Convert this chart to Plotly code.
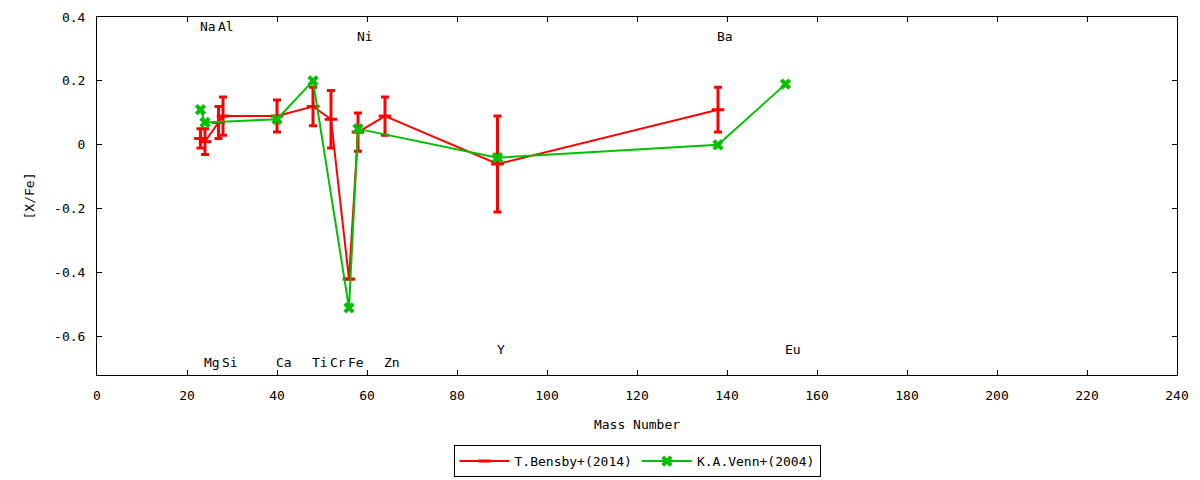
import plotly.graph_objects as go

# element labels placed along the top and bottom of the plot
elements = ["Na", "Mg", "Al", "Si", "Ca", "Ti", "Cr", "Fe", "Ni", "Zn", "Y", "Ba", "Eu"]
element_mass = [23, 24, 27, 28, 40, 48, 52, 56, 58, 64, 89, 138, 153]
label_y = [0.37, -0.68, 0.37, -0.68, -0.68, -0.68, -0.68, -0.68, 0.34, -0.68, -0.64, 0.34, -0.64]

# T.Bensby+(2014)
bensby_mass = [23, 24, 27, 28, 40, 48, 52, 56, 58, 64, 89, 138]
bensby_val = [0.02, 0.01, 0.07, 0.09, 0.09, 0.12, 0.08, -0.42, 0.04, 0.09, -0.06, 0.11]
bensby_err = [0.03, 0.04, 0.05, 0.06, 0.05, 0.06, 0.09, 0.0, 0.06, 0.06, 0.15, 0.07]

# K.A.Venn+(2004)
venn_mass = [23, 24, 40, 48, 56, 58, 89, 138, 153]
venn_val = [0.11, 0.07, 0.08, 0.20, -0.51, 0.05, -0.04, 0.0, 0.19]

yticks = [-0.6, -0.4, -0.2, 0, 0.2, 0.4]
ytick_text = ["-0.6", "-0.4", "-0.2", "0", "0.2", "0.4"]

FONT = "DejaVu Sans Mono"

fig = go.Figure()

fig.add_trace(go.Scatter(
    x=bensby_mass, y=bensby_val,
    mode="lines+markers",
    name="T.Bensby+(2014)",
    line=dict(color="#ff0000", width=2),
    marker=dict(symbol="line-ew", size=9, color="#ff0000",
                line=dict(color="#ff0000", width=3)),
    error_y=dict(type="data", array=bensby_err, visible=True,
                 color="#ff0000", thickness=3, width=4),
))

fig.add_trace(go.Scatter(
    x=venn_mass, y=venn_val,
    mode="lines+markers",
    name="K.A.Venn+(2004)",
    line=dict(color="#00c000", width=2),
    marker=dict(symbol="x", size=10, color="#00c000"),
))

for el, m, ly in zip(elements, element_mass, label_y):
    fig.add_annotation(x=m, y=ly, text=el, showarrow=False,
                       xanchor="left", xshift=-3,
                       font=dict(family=FONT, size=13, color="black"))

axis_common = dict(
    showline=True, linecolor="black", linewidth=1, mirror="ticks",
    ticks="inside", ticklen=5, tickcolor="black",
    showgrid=False, zeroline=False,
    tickfont=dict(family=FONT, size=13, color="black"),
    ticklabelstandoff=8,
)

fig.update_xaxes(range=[0, 240], dtick=20,
                 title=dict(text="Mass Number", font=dict(family=FONT, size=13, color="black"),
                            standoff=18),
                 **axis_common)
fig.update_yaxes(range=[-0.72, 0.4], tickvals=yticks, ticktext=ytick_text,
                 title=dict(text="[X/Fe]", font=dict(family=FONT, size=13, color="black"),
                            standoff=16),
                 **axis_common)

fig.update_layout(
    width=1200, height=480,
    paper_bgcolor="white", plot_bgcolor="white",
    margin=dict(l=97, r=23, t=17, b=105, autoexpand=False),
    font=dict(family=FONT, size=13, color="black"),
    legend=dict(orientation="h", x=0.5, xanchor="center",
                yref="container", y=0.006, yanchor="bottom",
                bordercolor="black", borderwidth=1, bgcolor="white",
                font=dict(family=FONT, size=13), itemwidth=50),
)

fig.write_html("out.html", post_script="document.body.style.margin='0';",
               config={"displayModeBar": False})
